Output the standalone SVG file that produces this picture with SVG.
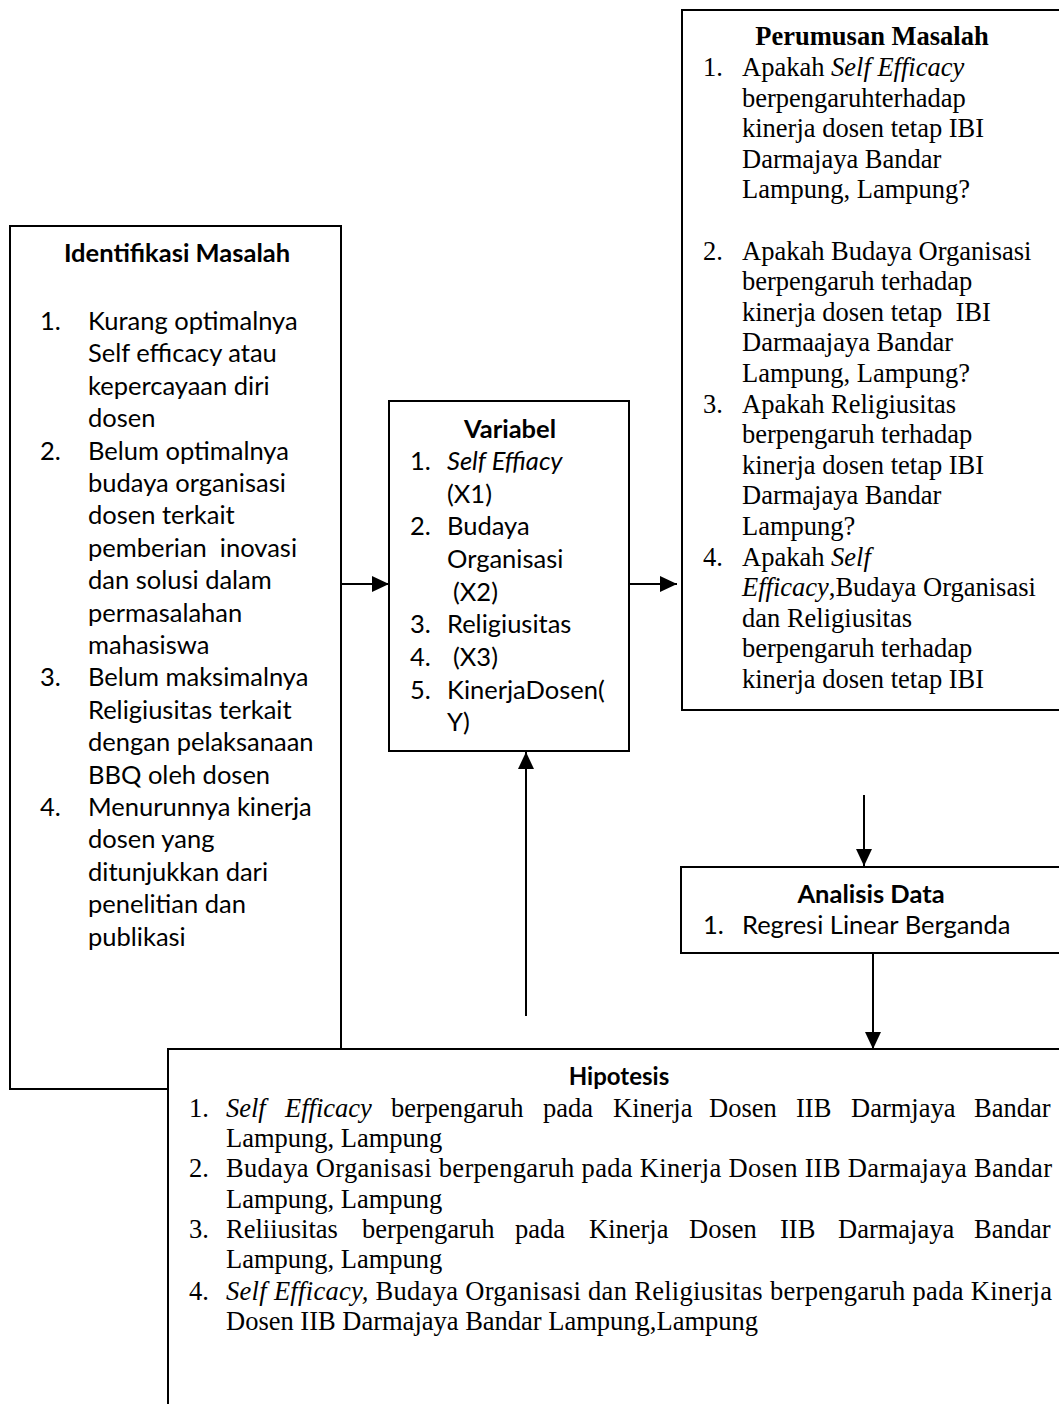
<svg xmlns="http://www.w3.org/2000/svg" width="1059" height="1404" viewBox="0 0 1059 1404">
<defs>
<style>
.box{fill:#fff;stroke:#000;stroke-width:2}
.sans{font-family:Lato,"Open Sans","Liberation Sans",sans-serif;font-size:25.5px;fill:#000}
.serif{font-family:"Liberation Serif","Times New Roman",serif;font-size:26.5px;fill:#000}
.b{font-weight:bold}
.i{font-style:italic}
.mid{text-anchor:middle}
.conn{stroke:#000;stroke-width:2;fill:none;marker-end:url(#arr)}
</style>
<marker id="arr" markerUnits="userSpaceOnUse" markerWidth="18" markerHeight="16" refX="17" refY="8" orient="auto">
<path d="M0,0 L17,8 L0,16 Z" fill="#000"/>
</marker>
</defs>
<rect width="1059" height="1404" fill="#fff"/>

<g id="identifikasi">
<rect class="box" x="10" y="226" width="331" height="863"/>
<text class="sans b mid" x="177" y="262">Identifikasi Masalah</text>
<g class="sans">
<text x="40" y="330">1.</text><text x="88" y="330">Kurang optimalnya</text>
<text x="88" y="362.4">Self efficacy atau</text>
<text x="88" y="394.8">kepercayaan diri</text>
<text x="88" y="427.2">dosen</text>
<text x="40" y="459.6">2.</text><text x="88" y="459.6">Belum optimalnya</text>
<text x="88" y="492">budaya organisasi</text>
<text x="88" y="524.4">dosen terkait</text>
<text x="88" y="556.8">pemberian&#160; inovasi</text>
<text x="88" y="589.2">dan solusi dalam</text>
<text x="88" y="621.6">permasalahan</text>
<text x="88" y="654">mahasiswa</text>
<text x="40" y="686.4">3.</text><text x="88" y="686.4">Belum maksimalnya</text>
<text x="88" y="718.8">Religiusitas terkait</text>
<text x="88" y="751.2">dengan pelaksanaan</text>
<text x="88" y="783.6">BBQ oleh dosen</text>
<text x="40" y="816">4.</text><text x="88" y="816">Menurunnya kinerja</text>
<text x="88" y="848.4">dosen yang</text>
<text x="88" y="880.8">ditunjukkan dari</text>
<text x="88" y="913.2">penelitian dan</text>
<text x="88" y="945.6">publikasi</text>
</g>
</g>

<g id="variabel">
<rect class="box" x="389" y="401" width="240" height="350"/>
<text class="sans b mid" x="510" y="438">Variabel</text>
<g class="sans">
<text x="410" y="470">1.</text><text x="447" y="470" class="i">Self Effiacy</text>
<text x="447" y="503">(X1)</text>
<text x="410" y="535">2.</text><text x="447" y="535">Budaya</text>
<text x="447" y="568">Organisasi</text>
<text x="453" y="601">(X2)</text>
<text x="410" y="633">3.</text><text x="447" y="633">Religiusitas</text>
<text x="410" y="666">4.</text><text x="453" y="666">(X3)</text>
<text x="410" y="699">5.</text><text x="447" y="699">KinerjaDosen(</text>
<text x="447" y="731">Y)</text>
</g>
</g>

<g id="perumusan">
<rect class="box" x="682" y="10" width="400" height="700"/>
<text class="serif b mid" x="872" y="45">Perumusan Masalah</text>
<g class="serif">
<text x="703" y="76">1.</text><text x="742" y="76">Apakah <tspan class="i">Self Efficacy</tspan></text>
<text x="742" y="106.6">berpengaruhterhadap</text>
<text x="742" y="137.2">kinerja dosen tetap IBI</text>
<text x="742" y="167.8">Darmajaya Bandar</text>
<text x="742" y="198.4">Lampung, Lampung?</text>
<text x="703" y="259.6">2.</text><text x="742" y="259.6">Apakah Budaya Organisasi</text>
<text x="742" y="290.2">berpengaruh terhadap</text>
<text x="742" y="320.8">kinerja dosen tetap&#160; IBI</text>
<text x="742" y="351.4">Darmaajaya Bandar</text>
<text x="742" y="382">Lampung, Lampung?</text>
<text x="703" y="412.6">3.</text><text x="742" y="412.6">Apakah Religiusitas</text>
<text x="742" y="443.2">berpengaruh terhadap</text>
<text x="742" y="473.8">kinerja dosen tetap IBI</text>
<text x="742" y="504.4">Darmajaya Bandar</text>
<text x="742" y="535">Lampung?</text>
<text x="703" y="565.6">4.</text><text x="742" y="565.6">Apakah <tspan class="i">Self</tspan></text>
<text x="742" y="596.2"><tspan class="i">Efficacy</tspan>,Budaya Organisasi</text>
<text x="742" y="626.8">dan Religiusitas</text>
<text x="742" y="657.4">berpengaruh terhadap</text>
<text x="742" y="688">kinerja dosen tetap IBI</text>
</g>
</g>

<g id="analisis">
<rect class="box" x="681" y="867" width="400" height="86"/>
<text class="sans b mid" x="871" y="903">Analisis Data</text>
<text class="sans" x="703" y="934">1.</text>
<text class="sans" x="742" y="934">Regresi Linear Berganda</text>
</g>

<g id="hipotesis">
<rect class="box" x="168" y="1049" width="910" height="380"/>
<text class="sans b mid" x="619" y="1085" style="font-size:24px">Hipotesis</text>
<g class="serif">
<text x="189" y="1117">1.</text>
<text y="1117"><tspan x="226" class="i">Self</tspan><tspan x="285" class="i">Efficacy</tspan><tspan x="391">berpengaruh</tspan><tspan x="543">pada</tspan><tspan x="613">Kinerja</tspan><tspan x="709">Dosen</tspan><tspan x="796">IIB</tspan><tspan x="851">Darmjaya</tspan><tspan x="974">Bandar</tspan></text>
<text x="226" y="1147">Lampung, Lampung</text>
<text x="189" y="1177">2.</text>
<text x="226" y="1177" textLength="826" lengthAdjust="spacing">Budaya Organisasi berpengaruh pada Kinerja Dosen IIB Darmajaya Bandar</text>
<text x="226" y="1208">Lampung, Lampung</text>
<text x="189" y="1238">3.</text>
<text y="1238"><tspan x="226">Reliiusitas</tspan><tspan x="362">berpengaruh</tspan><tspan x="515">pada</tspan><tspan x="589">Kinerja</tspan><tspan x="689">Dosen</tspan><tspan x="780">IIB</tspan><tspan x="838">Darmajaya</tspan><tspan x="974">Bandar</tspan></text>
<text x="226" y="1268">Lampung, Lampung</text>
<text x="189" y="1300">4.</text>
<text x="226" y="1300" textLength="826" lengthAdjust="spacing"><tspan class="i">Self Efficacy,</tspan> Budaya Organisasi dan Religiusitas berpengaruh pada Kinerja</text>
<text x="226" y="1330">Dosen IIB Darmajaya Bandar Lampung,Lampung</text>
</g>
</g>

<g id="connectors">
<line class="conn" x1="341" y1="584" x2="389" y2="584"/>
<line class="conn" x1="629" y1="584" x2="677" y2="584"/>
<line class="conn" x1="526" y1="1016" x2="526" y2="752"/>
<line class="conn" x1="864" y1="795" x2="864" y2="866"/>
<line class="conn" x1="873" y1="953" x2="873" y2="1049"/>
</g>
</svg>
